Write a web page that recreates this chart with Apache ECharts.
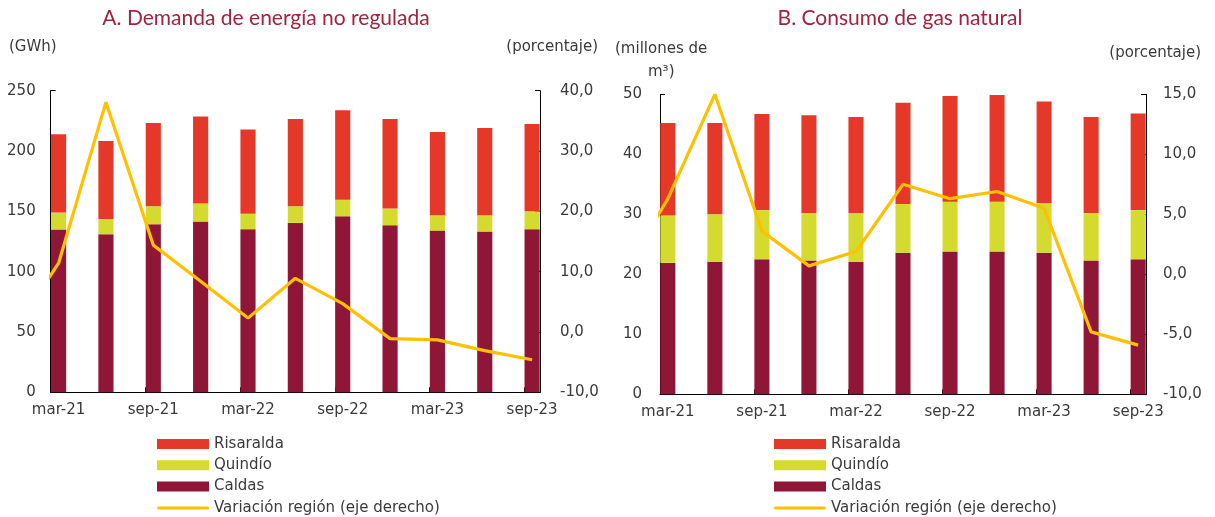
<!DOCTYPE html>
<html>
<head>
<meta charset="utf-8">
<script src="https://cdn.jsdelivr.net/npm/echarts@6/dist/echarts.min.js"></script>
<style>
html,body{margin:0;padding:0;background:#fff;}
#chart{width:1215px;height:517px;}
</style>
</head>
<body>
<div id="chart"></div>
<script>
// Monthly category axis (bars are quarterly); dic-20 only feeds the clipped start of the line
const months = ['dic-20','ene-21','feb-21','mar-21','abr-21','may-21','jun-21','jul-21','ago-21','sep-21','oct-21','nov-21','dic-21',
  'ene-22','feb-22','mar-22','abr-22','may-22','jun-22','jul-22','ago-22','sep-22','oct-22','nov-22','dic-22',
  'ene-23','feb-23','mar-23','abr-23','may-23','jun-23','jul-23','ago-23','sep-23'];
const quarters = ['mar-21','jun-21','sep-21','dic-21','mar-22','jun-22','sep-22','dic-22','mar-23','jun-23','sep-23'];
const lineDates = ['dic-20','mar-21','jun-21','sep-21','dic-21','mar-22','jun-22','sep-22','dic-22','mar-23','jun-23','sep-23'];

// A. Demanda de energía no regulada (GWh)
const energiaCaldas    = [135.0, 131.0, 139.3, 141.5, 135.2, 140.4, 145.9, 138.5, 134.1, 133.2, 135.2];
const energiaQuindio   = [14.0, 12.7, 14.9, 14.9, 12.7, 13.8, 13.8, 13.8, 12.7, 13.6, 14.9];
const energiaRisaralda = [64.8, 64.6, 69.0, 72.3, 70.0, 72.3, 74.0, 74.2, 68.9, 72.2, 72.2];
const energiaVariacion = [-0.5, 11.4, 38.1, 14.4, 8.4, 2.3, 8.9, 4.7, -1.1, -1.3, -3.1, -4.6];

// B. Consumo de gas natural (millones de m3)
const gasCaldas    = [21.9, 22.1, 22.5, 22.3, 22.1, 23.6, 23.8, 23.8, 23.6, 22.3, 22.5];
const gasQuindio   = [7.9, 7.9, 8.2, 7.9, 8.1, 8.1, 8.3, 8.3, 8.3, 7.9, 8.2];
const gasRisaralda = [15.4, 15.2, 16.0, 16.3, 16.0, 16.9, 17.6, 17.8, 16.9, 16.0, 16.1];
const gasVariacion = [-0.3, 6.3, 15.0, 3.6, 0.7, 1.9, 7.5, 6.3, 6.9, 5.5, -4.8, -5.9];

const leftTicks  = {min: 0, max: 250, interval: 50};
const leftPct    = {min: -10, max: 40, interval: 10};
const rightTicks = {min: 0, max: 50, interval: 10};
const rightPct   = {min: -10, max: 15, interval: 5};

const names = ['Risaralda', 'Quindío', 'Caldas', 'Variación región (eje derecho)'];
const colors = {Risaralda: '#E63828', 'Quindío': '#D5DA2F', Caldas: '#8F1636', line: '#FFC000'};

function onMonths(labels, values) {
  return months.map(m => { const i = labels.indexOf(m); return i >= 0 ? values[i] : '-'; });
}
const FONT = '"DejaVu Sans"';
const TITLE_FONT = 'Lato';
const TXT = '#3a3a3a';
const startIdx = months.indexOf('mar-21');
const showMonth = (idx, val) => val.startsWith('mar') || val.startsWith('sep');
const pct = v => v.toFixed(1).replace('.', ',');

function xAxis(gridIndex) {
  return {
    type: 'category', gridIndex, data: months, min: startIdx, boundaryGap: true,
    axisLine: {lineStyle: {color: '#000', width: 1}},
    axisTick: {show: true, inside: true, length: 5, interval: showMonth, alignWithLabel: false, lineStyle: {color: '#000'}},
    axisLabel: {interval: showMonth, color: TXT, fontFamily: FONT, fontSize: 15, margin: 10}
  };
}
function yAxis(gridIndex, t, pos, fmt, margin) {
  return {
    type: 'value', gridIndex, position: pos, min: t.min, max: t.max, interval: t.interval,
    axisLine: {show: true, lineStyle: {color: '#000', width: 1}},
    axisTick: {show: true, inside: true, length: 5, lineStyle: {color: '#000'}},
    splitLine: {show: false},
    axisLabel: {color: TXT, fontFamily: FONT, fontSize: 15, margin, formatter: fmt}
  };
}
function barSeries(name, values, xi, yi) {
  return {
    name, type: 'bar', stack: 'total' + xi, xAxisIndex: xi, yAxisIndex: yi,
    data: onMonths(quarters, values), barWidth: '96%',
    itemStyle: {color: colors[name]}, emphasis: {disabled: true}
  };
}
function lineSeries(values, xi, yi) {
  return {
    name: names[3], type: 'line', xAxisIndex: xi, yAxisIndex: yi, clip: true,
    data: onMonths(lineDates, values), connectNulls: true, symbol: 'none',
    lineStyle: {color: colors.line, width: 3.2}, itemStyle: {color: colors.line}, z: 5
  };
}
function legend(left) {
  return {
    orient: 'vertical', left, top: 436.5, height: 100, padding: 0, itemWidth: 52, itemHeight: 10, itemGap: 6.3,
    textStyle: {color: TXT, fontFamily: FONT, fontSize: 15, lineHeight: 15, padding: [0, 0, 0, 0]},
    data: [
      {name: names[0], icon: 'rect'}, {name: names[1], icon: 'rect'}, {name: names[2], icon: 'rect'},
      {name: names[3], icon: 'path://M1.5,0 L50.5,0 A1.5,1.5 0 0 1 50.5,3 L1.5,3 A1.5,1.5 0 0 1 1.5,0 Z'}
    ],
    selectedMode: false
  };
}
function txt(x, y, text, opts) {
  return Object.assign({type: 'text', x, y, style: Object.assign({text, fill: TXT, font: '15px ' + FONT, textAlign: 'left', textVerticalAlign: 'middle'}, opts || {})});
}

const chart = echarts.init(document.getElementById('chart'), null, {renderer: 'canvas'});
chart.setOption({
  animation: false,
  backgroundColor: '#fff',
  grid: [
    {left: 50.7, right: 675, top: 90.7, bottom: 124.7},
    {left: 660, right: 69, top: 94.3, bottom: 122.7}
  ],
  xAxis: [xAxis(0), xAxis(1)],
  yAxis: [
    yAxis(0, leftTicks, 'left', v => String(v), 15),
    yAxis(0, leftPct, 'right', pct, 20),
    yAxis(1, rightTicks, 'left', v => String(v), 18),
    yAxis(1, rightPct, 'right', pct, 17)
  ],
  legend: [legend(157), legend(774)],
  series: [
    barSeries('Caldas', energiaCaldas, 0, 0),
    barSeries('Quindío', energiaQuindio, 0, 0),
    barSeries('Risaralda', energiaRisaralda, 0, 0),
    lineSeries(energiaVariacion, 0, 1),
    barSeries('Caldas', gasCaldas, 1, 2),
    barSeries('Quindío', gasQuindio, 1, 2),
    barSeries('Risaralda', gasRisaralda, 1, 2),
    lineSeries(gasVariacion, 1, 3)
  ],
  graphic: [
    txt(266, 18, 'A. Demanda de energía no regulada', {fill: '#A0243F', font: '21px ' + TITLE_FONT, textAlign: 'center'}),
    txt(900, 18, 'B. Consumo de gas natural', {fill: '#A0243F', font: '21px ' + TITLE_FONT, textAlign: 'center'}),
    txt(9, 47, '(GWh)'),
    txt(598, 47, '(porcentaje)', {textAlign: 'right'}),
    txt(615, 49, '(millones de'),
    txt(648, 72, 'm³)'),
    txt(1201, 53, '(porcentaje)', {textAlign: 'right'})
  ]
});
</script>
</body>
</html>
